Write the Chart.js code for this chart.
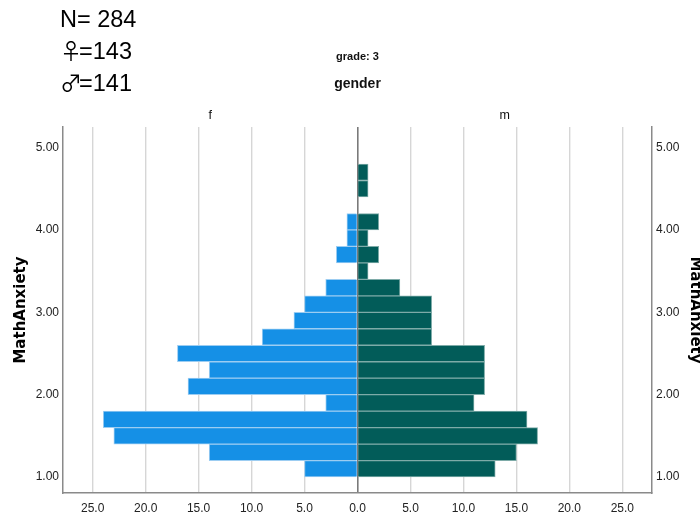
<!DOCTYPE html>
<html>
<head>
<meta charset="utf-8">
<script src="https://cdn.jsdelivr.net/npm/chart.js@4.4.1/dist/chart.umd.min.js"></script>
<style>
  html, body { margin: 0; padding: 0; background: #fff; }
  #wrap { position: relative; width: 700px; height: 517px; }
  #chart { position: absolute; left: 0; top: 0; }
  .note {
    position: absolute; left: 60px;
    font-family: "Liberation Sans", Arial, sans-serif;
    font-size: 23.5px; line-height: 1; color: #000; white-space: pre;
  }
  .sym { font-family: "Noto Sans CJK SC", "DejaVu Sans", sans-serif; font-size: 22px; letter-spacing: -3px; }
</style>
</head>
<body>
<div id="wrap">
  <canvas id="chart" width="700" height="517"></canvas>
  <div class="note" style="top:8px">N= 284</div>
  <div class="note" style="top:38px"><span class="sym">♀</span>=143</div>
  <div class="note" style="top:70px"><span class="sym">♂</span>=141</div>
</div>
<script>
// MathAnxiety histogram bins (centre of each 0.2-wide bin)
const binCenters = [1.1, 1.3, 1.5, 1.7, 1.9, 2.1, 2.3, 2.5, 2.7, 2.9,
                    3.1, 3.3, 3.5, 3.7, 3.9, 4.1, 4.3, 4.5, 4.7];
// Frequencies per bin, by gender
const femaleCounts = [5, 14, 23, 24, 3, 16, 14, 17, 9, 6, 5, 3, 0, 2, 1, 1, 0, 0, 0];
const maleCounts   = [13, 15, 17, 16, 11, 12, 12, 12, 7, 7, 7, 4, 1, 2, 1, 2, 0, 1, 1];
const groupLabels = ['f', 'm'];
const groupTitle = 'gender';
const panelTitle = 'grade: 3';
const axisTitle = 'MathAnxiety';

const tickFont = { family: '"Liberation Sans Narrow", "Liberation Sans", Arial, sans-serif', size: 12 };
const titleFont = { family: '"DejaVu Sans", Verdana, sans-serif', size: 15, weight: 'bold' };
const frameColor = '#8a8a8a';

const femaleData = binCenters.map((y, i) => ({ x: -femaleCounts[i], y }));
const maleData = binCenters.map((y, i) => ({ x: maleCounts[i], y }));

// Header labels: panel title, grouping variable and the two group names
const headerText = {
  id: 'headerText',
  afterDraw(chart) {
    const { ctx, chartArea, scales: { x } } = chart;
    const zero = x.getPixelForValue(0);
    ctx.save();
    ctx.fillStyle = '#111';
    ctx.textAlign = 'center';
    ctx.textBaseline = 'alphabetic';
    ctx.font = 'bold 11px "Liberation Sans", Arial, sans-serif';
    ctx.fillText(panelTitle, zero, 60);
    ctx.font = 'bold 14px "Liberation Sans", Arial, sans-serif';
    ctx.fillText(groupTitle, zero, 88);
    ctx.font = '12.5px "Liberation Sans", Arial, sans-serif';
    ctx.fillText(groupLabels[0], (chartArea.left + zero) / 2, 119);
    ctx.fillText(groupLabels[1], (zero + chartArea.right) / 2, 119);
    ctx.restore();
  }
};

const yRange = { min: 0.806, max: 5.25 };
const xLimit = 27.8;

new Chart(document.getElementById('chart'), {
  type: 'bar',
  data: {
    datasets: [
      {
        label: groupLabels[0],
        data: femaleData,
        backgroundColor: '#1590e6',
        borderColor: '#9ccdf2',
        borderWidth: 1,
        grouped: false,
        barPercentage: 1,
        categoryPercentage: 1,
        xAxisID: 'x',
        yAxisID: 'y'
      },
      {
        label: groupLabels[1],
        data: maleData,
        backgroundColor: '#025c59',
        borderColor: '#7eaba8',
        borderWidth: 1,
        grouped: false,
        barPercentage: 1,
        categoryPercentage: 1,
        xAxisID: 'x',
        yAxisID: 'y'
      }
    ]
  },
  options: {
    indexAxis: 'y',
    responsive: false,
    animation: false,
    devicePixelRatio: 1,
    layout: { padding: { top: 127, left: 0, right: 0, bottom: 0 } },
    plugins: {
      legend: { display: false },
      tooltip: { enabled: false }
    },
    scales: {
      x: {
        type: 'linear',
        position: 'bottom',
        min: -xLimit,
        max: xLimit,
        afterFit(scale) { scale.height = 24; },
        ticks: {
          stepSize: 5,
          includeBounds: false,
          padding: 8,
          color: '#222',
          font: tickFont,
          maxRotation: 0,
          callback: v => Math.abs(v).toFixed(1)
        },
        grid: {
          drawTicks: false,
          color: ctx => (ctx.tick && ctx.tick.value === 0) ? '#7a7a7a' : '#d6d6d6',
          lineWidth: ctx => (ctx.tick && ctx.tick.value === 0) ? 1.6 : 1.4
        },
        border: { display: true, color: frameColor, width: 1.5 }
      },
      y: {
        type: 'linear',
        position: 'left',
        min: yRange.min,
        max: yRange.max,
        offset: false,
        afterFit(scale) { scale.width = 63; },
        ticks: {
          stepSize: 1,
          includeBounds: false,
          padding: 4,
          color: '#222',
          font: tickFont,
          callback: v => v.toFixed(2)
        },
        grid: { display: false, drawTicks: false, offset: false },
        border: { display: true, color: frameColor, width: 1.5 },
        title: {
          display: true,
          text: axisTitle,
          color: '#000',
          font: titleFont,
          padding: { top: 12.5, bottom: 0 }
        }
      },
      y2: {
        type: 'linear',
        position: 'right',
        min: yRange.min,
        max: yRange.max,
        offset: false,
        afterFit(scale) { scale.width = 48; },
        ticks: {
          stepSize: 1,
          includeBounds: false,
          padding: 4,
          color: '#222',
          font: tickFont,
          callback: v => v.toFixed(2)
        },
        grid: { display: false, drawTicks: false },
        border: { display: true, color: frameColor, width: 1.5 },
        title: {
          display: true,
          text: axisTitle,
          color: '#000',
          font: titleFont,
          padding: { top: -4, bottom: 0 }
        }
      }
    }
  },
  plugins: [headerText]
});
</script>
</body>
</html>
